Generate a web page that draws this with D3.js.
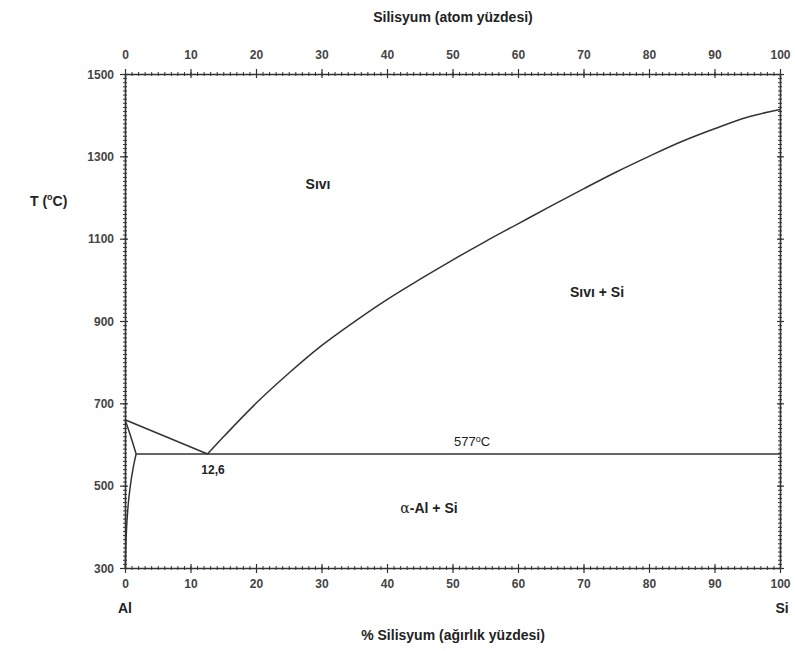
<!DOCTYPE html>
<html>
<head>
<meta charset="utf-8">
<script src="https://cdn.jsdelivr.net/npm/d3@7"></script>
<style>
  body { margin: 0; background: #fff; }
  svg { font-family: "Liberation Sans", Arial, sans-serif; }
  .axis text { font-size: 12px; font-weight: bold; fill: #444; }
  .axis path, .axis line { stroke: #333; }
</style>
</head>
<body>
<svg width="795" height="651"></svg>
<script>
// wt% Si vs temperature (°C)
let liquidusSi = [
  [12.6, 577], [15, 618], [20, 700], [25, 773], [30, 840], [35, 898],
  [40, 952], [45, 1001], [50, 1048], [55, 1093], [60, 1136], [65, 1179],
  [70, 1221], [75, 1262], [80, 1300], [85, 1336], [90, 1367], [95, 1395],
  [100, 1414]
];
let liquidusAl = [[0, 660], [12.6, 577]];
let solidus = [[0, 660], [0.6, 633], [1.2, 603], [1.7, 577]];
let solvus = [[1.7, 577], [1.3, 548], [0.8, 498], [0.45, 447], [0.25, 400], [0.12, 350], [0.05, 300]];
let eutectic = [[1.7, 577], [100, 577]];

let xTicks = [0, 10, 20, 30, 40, 50, 60, 70, 80, 90, 100];
let yTicks = [300, 500, 700, 900, 1100, 1300, 1500];

let svg = d3.select("svg");
let x = d3.scaleLinear().domain([0, 100]).range([125, 780]);
let y = d3.scaleLinear().domain([300, 1500]).range([568, 74]);

let minorX = d3.range(0, 101, 1);
let minorY = d3.range(300, 1501, 10);

// minor ticks, crossing the frame
function minor(axis, pos, vals, len) {
  let g = svg.append("g").attr("class", "axis").attr("transform", pos).call(axis.tickValues(vals).tickSize(len).tickFormat(""));
  g.select(".domain").remove();
  g.selectAll("line").attr("stroke-width", 1);
  return g;
}
minor(d3.axisBottom(x), "translate(0,568)", minorX, 2);
minor(d3.axisTop(x), "translate(0,74)", minorX, 2);
minor(d3.axisLeft(y), "translate(125,0)", minorY, 2);
minor(d3.axisRight(y), "translate(780,0)", minorY, 2);
minor(d3.axisBottom(x), "translate(0,568)", minorX, -2);
minor(d3.axisTop(x), "translate(0,74)", minorX, -2);
minor(d3.axisLeft(y), "translate(125,0)", minorY, -2);
minor(d3.axisRight(y), "translate(780,0)", minorY, -2);

// major axes
let fmt = d3.format("d");
let gb = svg.append("g").attr("class", "axis").attr("transform", "translate(0,568)")
  .call(d3.axisBottom(x).tickValues(xTicks).tickFormat(fmt).tickSize(5).tickSizeOuter(0).tickPadding(6));
let gt = svg.append("g").attr("class", "axis").attr("transform", "translate(0,74)")
  .call(d3.axisTop(x).tickValues(xTicks).tickFormat(fmt).tickSize(5).tickSizeOuter(0).tickPadding(10));
let gl = svg.append("g").attr("class", "axis").attr("transform", "translate(125,0)")
  .call(d3.axisLeft(y).tickValues(yTicks).tickFormat(fmt).tickSize(5).tickSizeOuter(0).tickPadding(6));
let gr = svg.append("g").attr("class", "axis").attr("transform", "translate(780,0)")
  .call(d3.axisRight(y).tickValues(yTicks).tickSize(4).tickSizeOuter(0).tickFormat(""));
[gb, gt, gl, gr].forEach(function (g) {
  g.select(".domain").attr("stroke-width", 1.6);
  g.selectAll(".tick line").attr("stroke-width", 1.2);
});
gb.selectAll(".tick line").attr("y1", -4);
gt.selectAll(".tick line").attr("y1", 4);
gl.selectAll(".tick line").attr("x1", 3);
gr.selectAll(".tick line").attr("x1", -3);
gl.selectAll("text").attr("dy", "0.35em");

// phase boundaries
let line = d3.line().x(function (d) { return x(d[0]); }).y(function (d) { return y(d[1]); });
let curves = [liquidusAl, eutectic];
curves.forEach(function (c) {
  svg.append("path").datum(c).attr("d", line).attr("fill", "none")
    .attr("stroke", "#333").attr("stroke-width", 1.5);
});
[liquidusSi, solidus, solvus].forEach(function (c) {
  svg.append("path").datum(c).attr("d", line.curve(d3.curveMonotoneX)).attr("fill", "none")
    .attr("stroke", "#333").attr("stroke-width", 1.5);
  line.curve(d3.curveLinear);
});

// labels
function label(txt, px, py, size, weight, anchor) {
  return svg.append("text").attr("x", px).attr("y", py)
    .attr("text-anchor", anchor || "middle")
    .style("font-size", size + "px").style("font-weight", weight || "bold")
    .style("fill", "#222").text(txt);
}
label("Silisyum (atom yüzdesi)", 453, 22, 14);
label("% Silisyum (ağırlık yüzdesi)", 453, 640, 14);
label("Al", x(0), 613, 14);
label("Si", x(100) + 2, 613, 14);
let t = label("T (", 30, 206, 14, "bold", "start");
t.append("tspan").attr("dy", -6).style("font-size", "9px").text("o");
t.append("tspan").attr("dy", 6).text("C)");
label("Sıvı", 318, 189, 14);
label("Sıvı + Si", 597, 297, 14);
let a = label("", 429, 513, 14);
a.append("tspan").style("font-family", "DejaVu Serif").style("font-weight", "normal").text("α");
a.append("tspan").text("-Al + Si");
let e = label("577", 472, 446, 13, "normal");
e.append("tspan").attr("dy", -4).style("font-size", "9px").text("o");
e.append("tspan").attr("dy", 4).text("C");
label("12,6", 213, 474, 12);
</script>
</body>
</html>
